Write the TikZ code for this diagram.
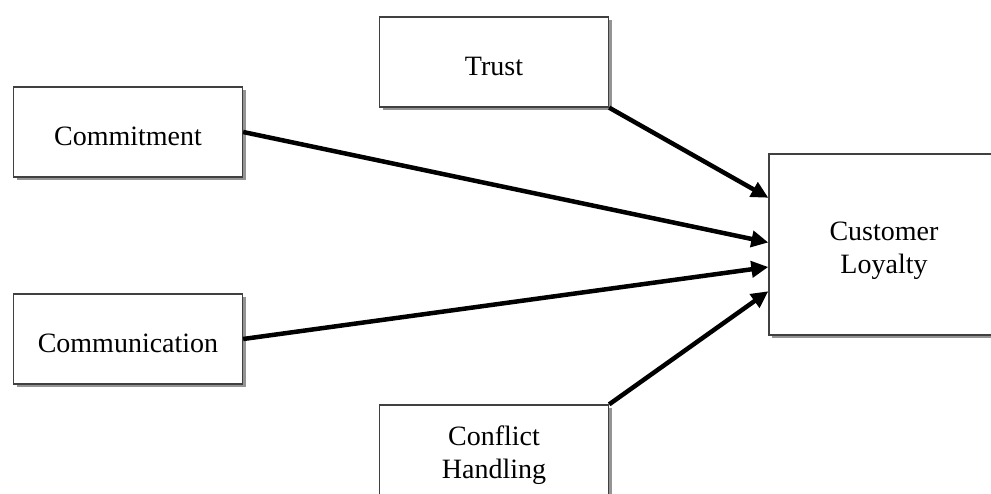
\documentclass[tikz,border=0pt]{standalone}
\usepackage{fontspec}
\setmainfont{Liberation Serif}
\usetikzlibrary{arrows.meta,shadows}
\begin{document}
\begin{tikzpicture}[x=1pt,y=-1pt,
    factor/.style={draw=black!75,line width=1.3pt,fill=white,
      minimum width=229pt,minimum height=90pt,inner sep=0pt,align=center,
      font=\fontsize{28}{33}\selectfont,text height=27pt,
      drop shadow={shadow xshift=3pt,shadow yshift=-3pt,fill=black!60,opacity=0.7}},
    twoline/.style={text height=60pt,text depth=3pt},
    link/.style={line width=4.5pt,-{Triangle[length=17pt,width=16pt]}}]

    \useasboundingbox (0,0) rectangle (991,493);

    \pgfmathsetmacro{\leftx}{128}
    \pgfmathsetmacro{\midx}{494}

    \node[factor] (trust) at (\midx,62) {Trust};
    \node[factor] (commitment) at (\leftx,132) {Commitment};
    \node[factor] (communication) at (\leftx,339) {Communication};
    \node[factor,twoline] (conflict) at (\midx,450) {Conflict\\Handling};
    \node[factor,twoline,minimum width=230pt,minimum height=181pt] (loyalty) at (884,244.5) {Customer\\Loyalty};

    \foreach \from/\angle in {trust.south east/158, commitment.east/179,
        communication.east/191, conflict.north east/202}{
        \draw[link] (\from) -- (loyalty.\angle);
    }
  \end{tikzpicture}
\end{document}
